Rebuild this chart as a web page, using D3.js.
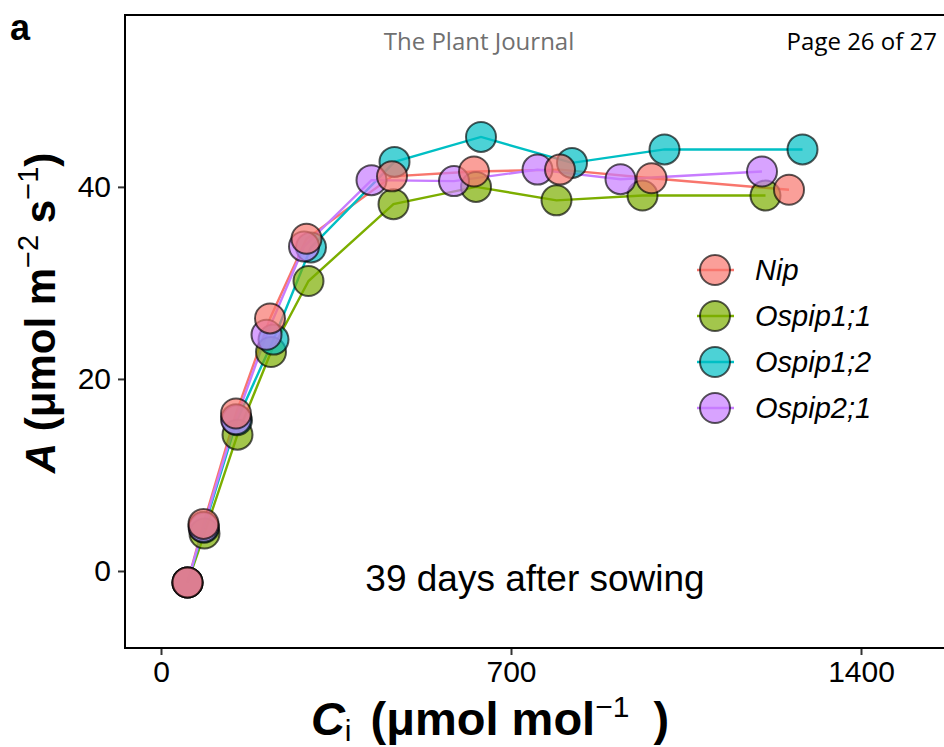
<!DOCTYPE html>
<html>
<head>
<meta charset="utf-8">
<script src="https://cdn.jsdelivr.net/npm/d3@7"></script>
<style>
  body { margin: 0; background: #fff; }
  svg { display: block; font-family: "Liberation Sans", Arial, sans-serif; }
</style>
</head>
<body>
<div id="chart"></div>
<script>
// Net assimilation vs intercellular CO2, 39 days after sowing
const genotypes = ["Nip", "Ospip1;1", "Ospip1;2", "Ospip2;1"];
const colours = ["#F8766D", "#7CAE00", "#00BFC4", "#C77CFF"];

const ciNip     = [53, 85, 150, 218, 291, 462, 626, 798, 981, 1256];
const aNip      = [-1.2, 4.9, 16.4, 26.3, 34.6, 41.1, 41.6, 41.8, 40.9, 39.7];
const ciOspip11 = [53, 87, 153, 220, 295, 465, 630, 791, 963, 1209];
const aOspip11  = [-1.2, 3.9, 14.2, 22.8, 30.2, 38.2, 40.0, 38.6, 39.1, 39.1];
const ciOspip12 = [53, 86, 152, 225, 300, 467, 640, 822, 1007, 1283];
const aOspip12  = [-1.2, 4.5, 15.7, 24.1, 33.7, 42.6, 45.2, 42.5, 43.9, 43.9];
const ciOspip21 = [53, 85, 150, 211, 286, 421, 586, 753, 919, 1202];
const aOspip21  = [-1.2, 4.6, 15.8, 24.6, 33.8, 40.7, 40.6, 41.8, 40.8, 41.6];

const xTicks = [0, 700, 1400];
const yTicks = [0, 20, 40];

const ciAll = [ciNip, ciOspip11, ciOspip12, ciOspip21];
const aAll = [aNip, aOspip11, aOspip12, aOspip21];
const series = genotypes.map((g, k) => ({
  name: g,
  colour: colours[k],
  pts: ciAll[k].map((c, i) => ({ ci: c, a: aAll[k][i] }))
}));

const width = 944, height = 747;
const panel = { left: 125, top: 15, right: 946, bottom: 648 };

const svg = d3.select("#chart").append("svg")
  .attr("width", width)
  .attr("height", height);

const x = d3.scaleLinear().domain([-72, 1570]).range([panel.left, panel.right]);
const y = d3.scaleLinear().domain([-8.02, 57.9]).range([panel.bottom, panel.top]);

// axes (ticks only, the panel border is drawn separately)
const xAxis = svg.append("g")
  .attr("transform", `translate(0,${panel.bottom})`)
  .call(d3.axisBottom(x).tickValues(xTicks).tickFormat(d3.format("d")).tickSize(7).tickPadding(6));
const yAxis = svg.append("g")
  .attr("transform", `translate(${panel.left},0)`)
  .call(d3.axisLeft(y).tickValues(yTicks).tickFormat(d3.format("d")).tickSize(7).tickPadding(7));
[xAxis, yAxis].forEach(ax => {
  ax.select(".domain").remove();
  ax.selectAll("line").attr("stroke", "#333").attr("stroke-width", 2);
  ax.selectAll("text")
    .attr("fill", "#000")
    .style("font-family", "Liberation Sans, Arial, sans-serif")
    .style("font-size", "30px");
});

// lines first, then the points on top
const line = d3.line().x(d => x(d.ci)).y(d => y(d.a));
svg.append("g").selectAll("path")
  .data(series)
  .join("path")
  .attr("d", d => line(d.pts))
  .attr("fill", "none")
  .attr("stroke", d => d.colour)
  .attr("stroke-width", 2.4);

// Ospip1;1, Ospip1;2, Ospip2;1, then Nip on top
const drawOrder = [1, 2, 3, 0];
drawOrder.forEach(k => {
  svg.append("g").selectAll("circle")
    .data(series[k].pts)
    .join("circle")
    .attr("cx", d => x(d.ci))
    .attr("cy", d => y(d.a))
    .attr("r", 15)
    .attr("fill", series[k].colour)
    .attr("fill-opacity", 0.7)
    .attr("stroke", "#000")
    .attr("stroke-opacity", 0.65)
    .attr("stroke-width", 2);
});

// panel border
svg.append("rect")
  .attr("x", panel.left)
  .attr("y", panel.top)
  .attr("width", panel.right - panel.left)
  .attr("height", panel.bottom - panel.top)
  .attr("fill", "none")
  .attr("stroke", "#000")
  .attr("stroke-width", 2);

// in-panel annotation
svg.append("text")
  .attr("x", 535)
  .attr("y", 591)
  .attr("text-anchor", "middle")
  .style("font-size", "37px")
  .text("39 days after sowing");

// legend
const legend = svg.append("g").attr("transform", "translate(715,270)");
const item = legend.selectAll("g")
  .data(series)
  .join("g")
  .attr("transform", (d, i) => `translate(0,${i * 46})`);
item.append("line")
  .attr("x1", -18).attr("x2", 19)
  .attr("stroke", d => d.colour)
  .attr("stroke-width", 2.4);
item.append("circle")
  .attr("r", 15)
  .attr("fill", d => d.colour)
  .attr("fill-opacity", 0.7)
  .attr("stroke", "#000")
  .attr("stroke-opacity", 0.65)
  .attr("stroke-width", 2);
item.append("text")
  .attr("x", 40)
  .attr("dy", "0.36em")
  .style("font-size", "29px")
  .style("font-style", "italic")
  .text(d => d.name);

// y axis title: A (µmol m-2 s-1)
const yTitle = svg.append("text")
  .attr("transform", "translate(55,313) rotate(-90)")
  .attr("text-anchor", "middle")
  .style("font-size", "42px")
  .style("font-weight", "bold");
yTitle.append("tspan").style("font-style", "italic").text("A");
yTitle.append("tspan").text(" (\u03bcmol m");
yTitle.append("tspan").attr("dy", -17).style("font-size", "29px").style("font-weight", "normal").text("\u22122");
yTitle.append("tspan").attr("dy", 17).text(" s");
yTitle.append("tspan").attr("dy", -17).style("font-size", "29px").style("font-weight", "normal").text("\u22121");
yTitle.append("tspan").attr("dy", 17).text(")");

// x axis title: Ci (µmol mol-1 )
const xTitle = svg.append("text")
  .attr("x", 490)
  .attr("y", 735)
  .attr("text-anchor", "middle")
  .style("font-size", "47px")
  .style("font-weight", "bold");
xTitle.append("tspan").style("font-style", "italic").text("C");
xTitle.append("tspan").attr("dy", 6).style("font-size", "30px").style("font-weight", "normal").text("i");
xTitle.append("tspan").attr("dy", -6).attr("dx", 6).text(" (\u03bcmol mol");
xTitle.append("tspan").attr("dy", -18).style("font-size", "30px").style("font-weight", "normal").text("\u22121");
xTitle.append("tspan").attr("dy", 18).attr("dx", 11).text(" )");

// panel tag and page header
svg.append("text")
  .attr("x", 10).attr("y", 40)
  .style("font-size", "36px")
  .style("font-weight", "bold")
  .text("a");
svg.append("text")
  .attr("x", 479).attr("y", 50)
  .attr("text-anchor", "middle")
  .style("font-family", "Open Sans, sans-serif")
  .style("font-size", "24px")
  .attr("fill", "#707070")
  .text("The Plant Journal");
svg.append("text")
  .attr("x", 937).attr("y", 50)
  .attr("text-anchor", "end")
  .style("font-family", "Open Sans, sans-serif")
  .style("font-size", "24px")
  .text("Page 26 of 27");
</script>
</body>
</html>
